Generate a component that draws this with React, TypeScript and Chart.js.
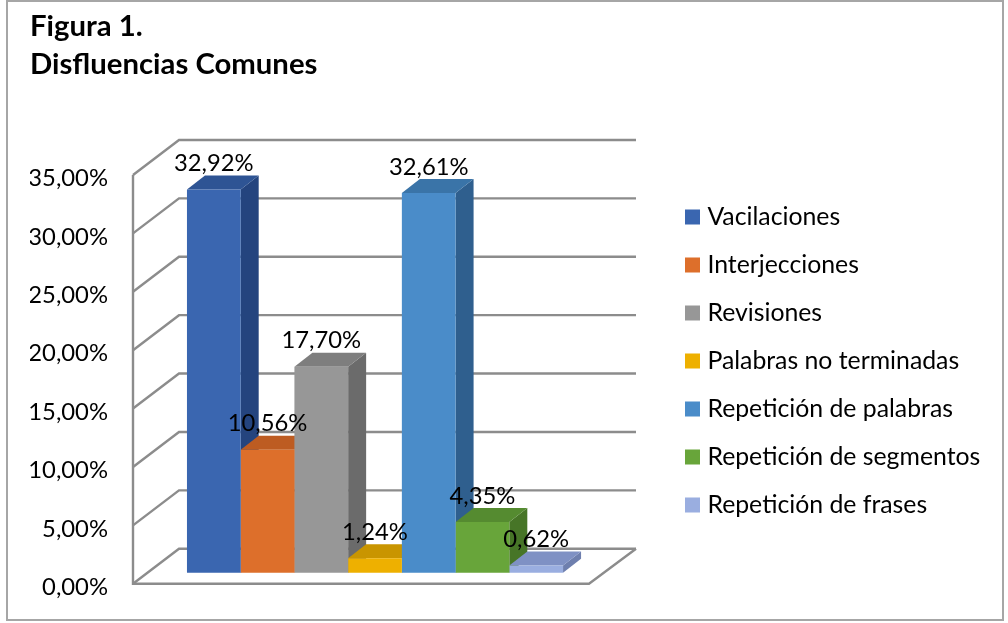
import React, { useEffect, useRef } from "react";
import { Chart, registerables } from "chart.js";

Chart.register(...registerables);

const categories = ["Disfluencias"];
const seriesNames = [
  "Vacilaciones",
  "Interjecciones",
  "Revisiones",
  "Palabras no terminadas",
  "Repetición de palabras",
  "Repetición de segmentos",
  "Repetición de frases",
];
const seriesValues = [32.92, 10.56, 17.7, 1.24, 32.61, 4.35, 0.62];
const tickValues = [0, 5, 10, 15, 20, 25, 30, 35];
const frontColors = ["#3a66b0", "#dd6f2b", "#979797", "#eeb000", "#4a8cc9", "#68a53a", "#9aaee0"];
const sideColors = ["#24447e", "#a84f1c", "#6b6b6b", "#b58600", "#2f5f8e", "#477527", "#6e7fae"];
const topColors = ["#2e5494", "#bd5c22", "#7e7e7e", "#c99500", "#3a74a8", "#558b30", "#7f91c4"];

const FONT = "Lato, 'Open Sans', sans-serif";
const TEXT_SIZE = 23.8;
const LEGEND_SIZE = 24.8;
const fmt = (v: number) => v.toFixed(2).replace(".", ",") + "%";

const WALL_DX = 46;
const WALL_DY = 35;
const BAR_DX = 18;
const BAR_DY = 14;
const GRID = "#8c8c8c";

const chart3d = {
  id: "chart3d",
  afterLayout(chart: any) {
    const lg = chart.legend;
    const pad = lg.options.labels.padding;
    lg.left = 690 - pad;
    lg.right = 1008;
    lg.top = 217 - pad - LEGEND_SIZE / 2;
    lg.bottom = 623;
  },
  beforeDraw(chart: any) {
    const { ctx } = chart;
    ctx.save();
    ctx.fillStyle = "#ffffff";
    ctx.fillRect(0, 0, chart.width, chart.height);
    ctx.strokeStyle = "#a6a6a6";
    ctx.lineWidth = 2;
    ctx.strokeRect(7, 1, 996, 619);
    ctx.restore();
  },
  beforeDatasetsDraw(chart: any) {
    const { ctx, chartArea } = chart;
    const y = chart.scales.yGrid;
    const L = chartArea.left;
    const wallRight = L + WALL_DX + 457;
    ctx.save();
    ctx.strokeStyle = GRID;
    ctx.lineWidth = 2.4;
    ctx.lineJoin = "miter";
    tickValues.forEach((v) => {
      const py = y.getPixelForValue(v);
      ctx.beginPath();
      ctx.moveTo(L, py);
      ctx.lineTo(L + WALL_DX, py - WALL_DY);
      ctx.lineTo(wallRight, py - WALL_DY);
      ctx.stroke();
    });
    const y0 = y.getPixelForValue(0);
    const y35 = y.getPixelForValue(35);
    ctx.beginPath();
    ctx.moveTo(L, y35);
    ctx.lineTo(L, y0);
    ctx.lineTo(wallRight - WALL_DX - 1, y0);
    ctx.lineTo(wallRight, y0 - WALL_DY);
    ctx.stroke();

    seriesValues.forEach((_, i) => {
      const bar = chart.getDatasetMeta(i).data[0];
      const l = bar.x - bar.width / 2;
      const r = bar.x + bar.width / 2;
      ctx.fillStyle = sideColors[i];
      ctx.beginPath();
      ctx.moveTo(r, bar.y);
      ctx.lineTo(r + BAR_DX, bar.y - BAR_DY);
      ctx.lineTo(r + BAR_DX, bar.base - BAR_DY);
      ctx.lineTo(r, bar.base);
      ctx.closePath();
      ctx.fill();
      ctx.fillStyle = topColors[i];
      ctx.beginPath();
      ctx.moveTo(l, bar.y);
      ctx.lineTo(l + BAR_DX, bar.y - BAR_DY);
      ctx.lineTo(r + BAR_DX, bar.y - BAR_DY);
      ctx.lineTo(r, bar.y);
      ctx.closePath();
      ctx.fill();
    });
    ctx.restore();
  },
  afterDatasetsDraw(chart: any) {
    const { ctx } = chart;
    ctx.save();
    ctx.fillStyle = "#000000";
    ctx.font = `${TEXT_SIZE}px ${FONT}`;
    ctx.textAlign = "center";
    ctx.textBaseline = "middle";
    seriesValues.forEach((v, i) => {
      const bar = chart.getDatasetMeta(i).data[0];
      ctx.fillText(fmt(v), bar.x, bar.y - 26);
    });
    ctx.restore();
  },
};

export default function App() {
  const ref = useRef<HTMLCanvasElement>(null);
  useEffect(() => {
    document.body.style.margin = "0";
    const chart = new Chart(ref.current!, {
      type: "bar",
      data: {
        labels: categories,
        datasets: seriesNames.map((name, i) => ({
          label: name,
          data: [seriesValues[i]],
          backgroundColor: frontColors[i],
          borderWidth: 0,
          yAxisID: "yBars",
          categoryPercentage: 0.777,
          barPercentage: 1,
        })),
      },
      plugins: [chart3d],
      options: {
        animation: false,
        responsive: false,
        layout: { padding: { left: 30, top: 8, right: 91, bottom: 39 } },
        plugins: {
          title: {
            display: true,
            text: ["Figura 1.", "Disfluencias Comunes"],
            align: "start",
            color: "#000000",
            font: { family: FONT, size: 29.3, weight: "bold", lineHeight: 1.28 },
            padding: { top: 0, bottom: 92 },
          },
          legend: {
            position: "right",
            align: "start",
            maxWidth: 300,
            labels: {
              boxWidth: 5,
              boxHeight: 5,
              padding: 23.2,
              color: "#000000",
              font: { family: FONT, size: LEGEND_SIZE },
              generateLabels: () =>
                seriesNames.map((name, i) => ({
                  text: name,
                  fillStyle: frontColors[i],
                  strokeStyle: frontColors[i],
                  lineWidth: 10,
                  datasetIndex: i,
                  hidden: false,
                })),
            },
          },
          tooltip: { enabled: false },
        },
        scales: {
          x: { display: false },
          y: {
            position: "left",
            min: 0.3,
            max: 35.3,
            afterFit: (s: any) => {
              s.width = 103;
            },
            afterBuildTicks: (s: any) => {
              s.ticks = tickValues.map((value) => ({ value }));
            },
            ticks: {
              autoSkip: false,
              padding: 25,
              color: "#000000",
              font: { family: FONT, size: TEXT_SIZE },
              callback: (v: any) => fmt(Number(v)),
            },
            grid: { display: false, drawTicks: false },
            border: { display: false },
          },
          yGrid: { display: false, min: 0, max: 35 },
          yBars: { display: false, min: -0.944, max: 34.16 },
        },
      } as any,
    });
    return () => chart.destroy();
  }, []);
  return <canvas ref={ref} width={1008} height={623} style={{ display: "block" }} />;
}
